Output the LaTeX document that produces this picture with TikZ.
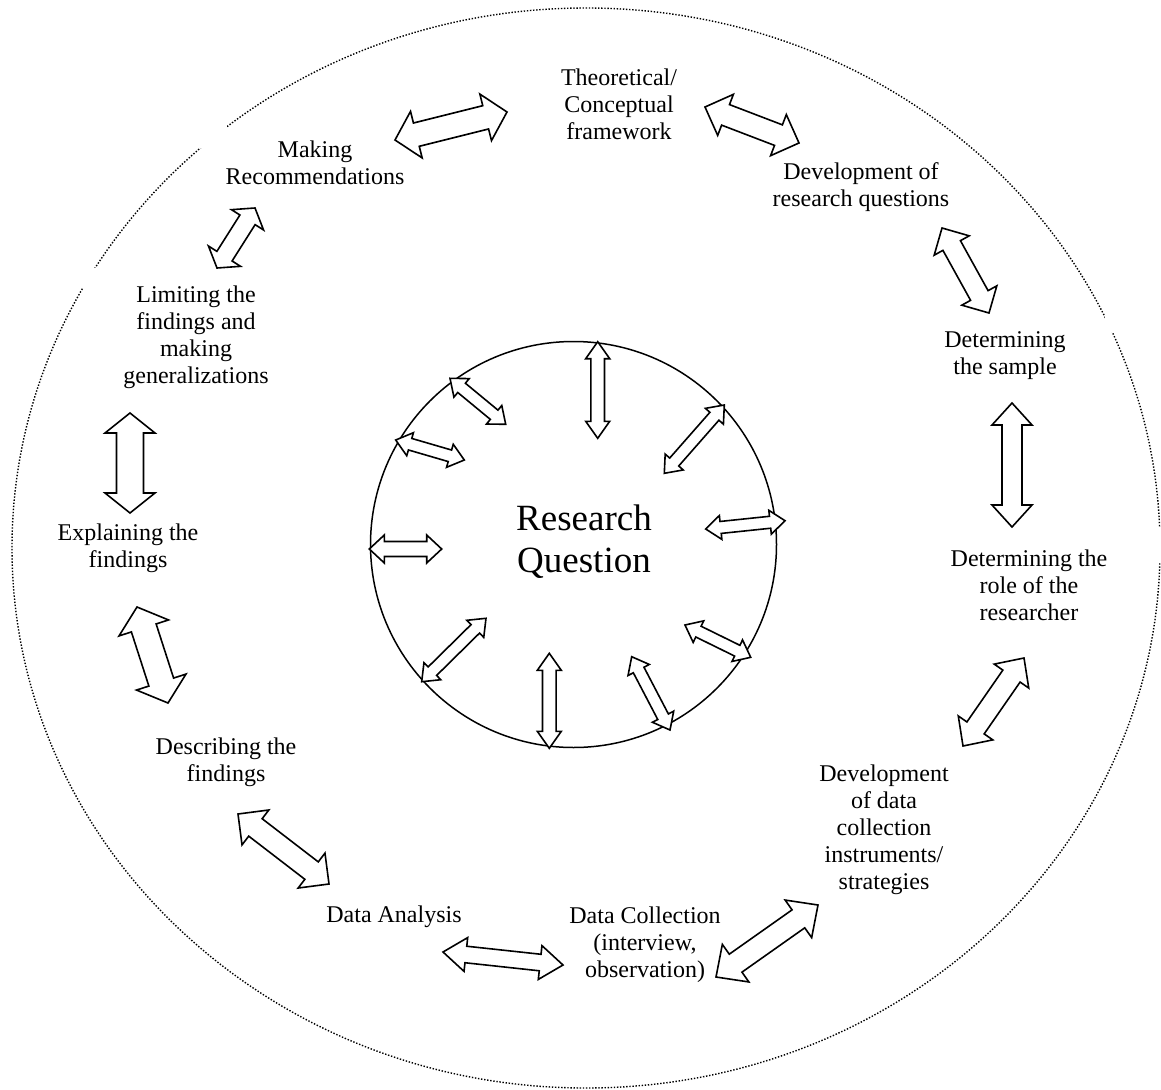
\documentclass[tikz,border=0pt]{standalone}
\usepackage{fontspec}
\setmainfont{Liberation Serif}
\usetikzlibrary{calc}

\tikzset{
  outerring/.style={line width=1.4pt, dash pattern=on 1.4pt off 1.7pt},
  innerring/.style={draw, circle, line width=1.5pt, inner sep=0pt},
  barrow/.style={draw=black, fill=white, line width=1.6pt, line join=miter},
  stage/.style={align=center, font=\fontsize{24}{27}\selectfont, inner sep=0pt},
  core/.style={align=center, font=\fontsize{37}{42}\selectfont, inner sep=0pt},
}

% Outlined double-headed block arrow between two named tips.
% #1, #2: tips; #3: shaft half-width; #4: head half-width; #5: head length
\newcommand\blockarrow[5]{%
  \draw[barrow]
    (#1)
    -- ($(#1)!#5!(#2)!#4!90:(#2)$)
    -- ($(#1)!#5!(#2)!#3!90:(#2)$)
    -- ($(#2)!#5!(#1)!#3!-90:(#1)$)
    -- ($(#2)!#5!(#1)!#4!-90:(#1)$)
    -- (#2)
    -- ($(#2)!#5!(#1)!#4!90:(#1)$)
    -- ($(#2)!#5!(#1)!#3!90:(#1)$)
    -- ($(#1)!#5!(#2)!#3!-90:(#2)$)
    -- ($(#1)!#5!(#2)!#4!-90:(#2)$)
    -- cycle;}

\begin{document}
\begin{tikzpicture}[x=1pt,y=-1pt]
\useasboundingbox (0,0) rectangle (1161,1089);

% outer dotted ring, broken where label boxes sit on it
\draw[outerring] (586,548) ellipse [x radius=574pt, y radius=540pt];
\fill[white] (200,125) rectangle (227,148);
\fill[white] (78,268) rectangle (96,288);
\fill[white] (1105,315) rectangle (1116,332);
\fill[white] (1148,527) rectangle (1161,563);

% central circle
\node[innerring, minimum size=406pt] (ring) at (573.5,544.5) {};
\node[core] (rq) at (584,542) {Research\\Question};

% stages around the cycle
\node[stage] (theo) at (619,104) {Theoretical/\\Conceptual\\framework};
\node[stage] (devq) at (861,187) {Development of\\research questions};
\node[stage] (samp) at (1005,356) {Determining\\the sample};
\node[stage] (role) at (1029,585) {Determining the\\role of the\\researcher};
\node[stage] (inst) at (884,830) {Development\\of data\\collection\\instruments/\\strategies};
\node[stage] (coll) at (645,945) {Data Collection\\(interview,\\observation)};
\node[stage] (anal) at (394,917) {Data Analysis};
\node[stage] (desc) at (226,762) {Describing the\\findings};
\node[stage] (expl) at (128,548) {Explaining the\\findings};
\node[stage] (limi) at (196,337) {Limiting the\\findings and\\making\\generalizations};
\node[stage] (reco) at (315,163) {Making\\Recommendations};

% arrow tips between neighbouring stages
\coordinate (o1a) at (395,140);  \coordinate (o1b) at (507,112);
\coordinate (o2a) at (705,107);  \coordinate (o2b) at (799,143);
\coordinate (o3a) at (942,228);  \coordinate (o3b) at (989,313);
\coordinate (o4a) at (1012,403); \coordinate (o4b) at (1012,527);
\coordinate (o5a) at (1024,658); \coordinate (o5b) at (963,746);
\coordinate (o6a) at (818,905);  \coordinate (o6b) at (716,977);
\coordinate (o7a) at (443,952);  \coordinate (o7b) at (563,965);
\coordinate (o8a) at (238,814);  \coordinate (o8b) at (329,884);
\coordinate (o9a) at (137,607);  \coordinate (o9b) at (168,703);
\coordinate (o10a) at (130,413); \coordinate (o10b) at (130,513);
\coordinate (o11a) at (255,208); \coordinate (o11b) at (217,268);

\blockarrow{o1a}{o1b}{12pt}{24pt}{22pt}
\blockarrow{o2a}{o2b}{11pt}{22pt}{22pt}
\blockarrow{o3a}{o3b}{10pt}{20pt}{20pt}
\blockarrow{o4a}{o4b}{10pt}{20pt}{22pt}
\blockarrow{o5a}{o5b}{10.5pt}{21pt}{22pt}
\blockarrow{o6a}{o6b}{11pt}{23pt}{24pt}
\blockarrow{o7a}{o7b}{8.3pt}{17pt}{23pt}
\blockarrow{o8a}{o8b}{11pt}{22pt}{22pt}
\blockarrow{o9a}{o9b}{13pt}{26pt}{22pt}
\blockarrow{o10a}{o10b}{13.5pt}{25pt}{20pt}
\blockarrow{o11a}{o11b}{9pt}{19pt}{14pt}

% spokes from the central circle
\coordinate (i1a) at (597.7,341.7); \coordinate (i1b) at (597.7,438.3);
\coordinate (i2a) at (724.3,405);   \coordinate (i2b) at (664.3,473.3);
\coordinate (i3a) at (785,520.7);   \coordinate (i3b) at (705.7,529);
\coordinate (i4a) at (750.7,657.3); \coordinate (i4b) at (685,625);
\coordinate (i5a) at (670,730);     \coordinate (i5b) at (631.7,656.7);
\coordinate (i6a) at (549.3,748.3); \coordinate (i6b) at (549.3,653.3);
\coordinate (i7a) at (421.7,681.7); \coordinate (i7b) at (486,618.3);
\coordinate (i8a) at (369.3,549);   \coordinate (i8b) at (441.7,549);
\coordinate (i9a) at (395.7,440);   \coordinate (i9b) at (464.3,460);
\coordinate (i10a) at (450,378.3);  \coordinate (i10b) at (505.7,424.3);

\blockarrow{i1a}{i1b}{6.8pt}{12pt}{17pt}
\blockarrow{i2a}{i2b}{6pt}{12pt}{15pt}
\blockarrow{i3a}{i3b}{6pt}{12pt}{15pt}
\blockarrow{i4a}{i4b}{6pt}{12pt}{15pt}
\blockarrow{i5a}{i5b}{6pt}{12pt}{15pt}
\blockarrow{i6a}{i6b}{6.8pt}{12pt}{17pt}
\blockarrow{i7a}{i7b}{6pt}{12pt}{15pt}
\blockarrow{i8a}{i8b}{7.5pt}{14pt}{15pt}
\blockarrow{i9a}{i9b}{6pt}{12pt}{15pt}
\blockarrow{i10a}{i10b}{6pt}{12pt}{15pt}
\end{tikzpicture}
\end{document}
